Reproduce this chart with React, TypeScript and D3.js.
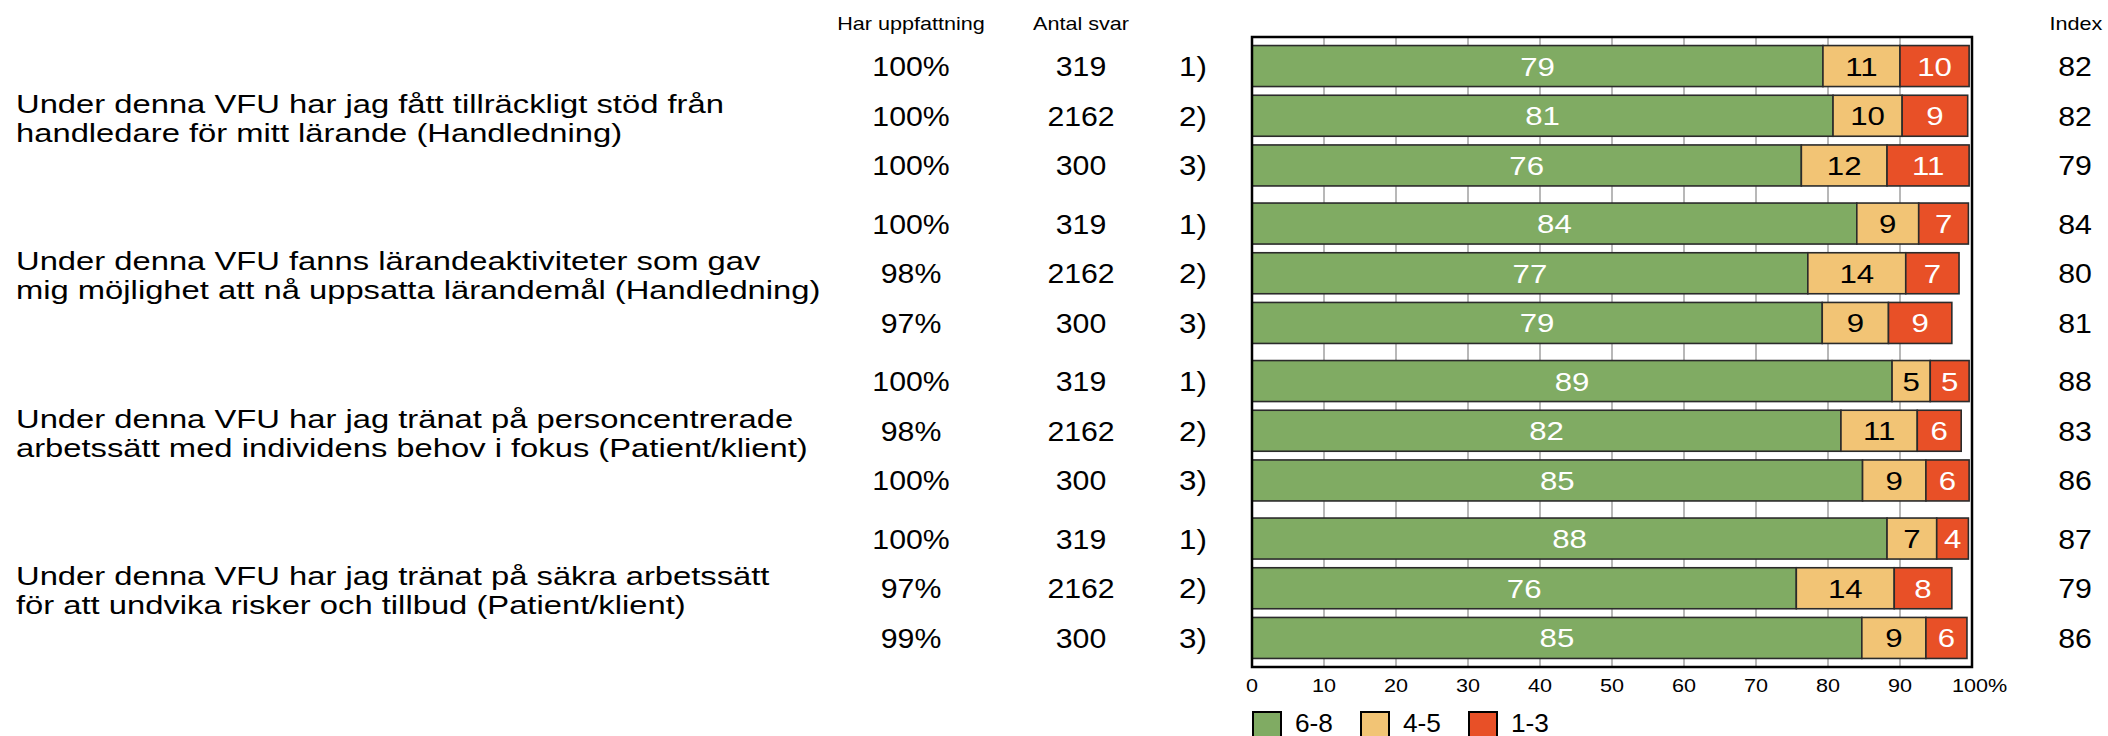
import React from "react";
import * as d3 from "d3";

const questionLines: string[][] = [
  ["Under denna VFU har jag fått tillräckligt stöd från", "handledare för mitt lärande (Handledning)"],
  ["Under denna VFU fanns lärandeaktiviteter som gav", "mig möjlighet att nå uppsatta lärandemål (Handledning)"],
  ["Under denna VFU har jag tränat på personcentrerade", "arbetssätt med individens behov i fokus (Patient/klient)"],
  ["Under denna VFU har jag tränat på säkra arbetssätt", "för att undvika risker och tillbud (Patient/klient)"],
];
const respondentLabels = ["1)", "2)", "3)"];
// shares in percent (labels are the rounded values)
const green = [79.3, 80.7, 76.3, 84.0, 77.2, 79.2, 88.9, 81.8, 84.8, 88.2, 75.6, 84.7];
const yellow = [10.7, 9.6, 11.9, 8.6, 13.6, 9.2, 5.3, 10.6, 8.8, 6.9, 13.6, 8.9];
const red = [9.6, 9.1, 11.4, 6.9, 7.4, 8.8, 5.4, 6.1, 6.0, 4.4, 8.0, 5.7];
const indexValues = [82, 82, 79, 84, 80, 81, 88, 83, 86, 87, 79, 86];
const harUppfattning = ["100%", "100%", "100%", "100%", "98%", "97%", "100%", "98%", "100%", "100%", "97%", "99%"];
const antalSvar = [319, 2162, 300, 319, 2162, 300, 319, 2162, 300, 319, 2162, 300];
const xTicks = [0, 10, 20, 30, 40, 50, 60, 70, 80, 90, 100];
const legendLabels = ["6-8", "4-5", "1-3"];
const seriesColors = ["#80ab63", "#f2c475", "#e85027"];
const seriesTextColors = ["#ffffff", "#000000", "#ffffff"];

const FONT = "'Liberation Sans', Arial, Helvetica, sans-serif";

function T(props: {
  x: number; y: number; sx?: number; size: number; anchor?: string; fill?: string; children: React.ReactNode;
}) {
  const { x, y, sx = 1, size, anchor = "start", fill = "#000", children } = props;
  return (
    <text
      transform={`translate(${x},${y}) scale(${sx},1)`}
      fontSize={size}
      textAnchor={anchor as any}
      fill={fill}
      fontFamily={FONT}
    >
      {children}
    </text>
  );
}

export default function App() {
  const W = 2108, H = 736;
  const plotL = 1252, plotR = 1972, plotT = 37, plotB = 667;
  const x = d3.scaleLinear().domain([0, 100]).range([plotL, plotR]);
  const gScale = d3.scaleBand<number>().domain([0, 1, 2, 3]).range([plotT, plotB]).padding(0);
  const rScale = d3.scaleBand<number>().domain([0, 1, 2]).range([0, gScale.bandwidth()])
    .paddingInner(0.175).paddingOuter(0.172);

  const rows = green.map((g, i) => {
    const grp = Math.floor(i / 3);
    const r = i % 3;
    const y0 = (gScale(grp) as number) + (rScale(r) as number);
    const vals = [g, yellow[i], red[i]];
    const stack: { x0: number; x1: number; v: number; k: number }[] = [];
    let acc = 0;
    vals.forEach((v, k) => {
      stack.push({ x0: acc, x1: acc + v, v, k });
      acc += v;
    });
    return { i, grp, r, y0, h: rScale.bandwidth(), stack };
  });

  return (
    <svg width={W} height={H} style={{ position: "absolute", left: 0, top: 0, background: "#fff" }}>
      <rect x={0} y={0} width={W} height={H} fill="#fff" />
      {/* headers */}
      <T x={911} y={30} size={18} sx={1.2} anchor="middle">Har uppfattning</T>
      <T x={1081} y={30} size={18} sx={1.2} anchor="middle">Antal svar</T>
      <T x={2076} y={30} size={18} sx={1.2} anchor="middle">Index</T>

      {/* question labels */}
      {questionLines.map((lines, g) => {
        const cy = (gScale(g) as number) + gScale.bandwidth() / 2;
        return lines.map((ln, li) => (
          <T key={`q${g}-${li}`} x={16} y={cy - 3 + li * 29} size={25} sx={1.31}>{ln}</T>
        ));
      })}

      {/* gridlines */}
      {xTicks.map((t) => (
        <line key={`g${t}`} x1={x(t)} x2={x(t)} y1={plotT} y2={plotB} stroke="#b8b8b8" strokeWidth={2} />
      ))}

      {/* bars */}
      {rows.map((row) => (
        <g key={`r${row.i}`}>
          {row.stack.map((s) => (
            <rect
              key={s.k}
              x={x(s.x0)}
              y={row.y0}
              width={x(s.x1) - x(s.x0)}
              height={row.h}
              fill={seriesColors[s.k]}
              stroke="#2b2b2b"
              strokeWidth={1.6}
            />
          ))}
          {row.stack.map((s) => (
            <T
              key={`t${s.k}`}
              x={(x(s.x0) + x(s.x1)) / 2}
              y={row.y0 + row.h / 2 + 9.5}
              size={26}
              sx={1.2}
              anchor="middle"
              fill={seriesTextColors[s.k]}
            >
              {Math.round(s.v)}
            </T>
          ))}
          <T x={911} y={row.y0 + row.h / 2 + 10} size={28} sx={1.08} anchor="middle">{harUppfattning[row.i]}</T>
          <T x={1081} y={row.y0 + row.h / 2 + 10} size={28} sx={1.08} anchor="middle">{antalSvar[row.i]}</T>
          <T x={1207} y={row.y0 + row.h / 2 + 10} size={28} sx={1.12} anchor="end">{respondentLabels[row.r]}</T>
          <T x={2075} y={row.y0 + row.h / 2 + 10} size={28} sx={1.08} anchor="middle">{indexValues[row.i]}</T>
        </g>
      ))}

      {/* frame */}
      <rect x={plotL} y={plotT} width={plotR - plotL} height={plotB - plotT} fill="none" stroke="#000" strokeWidth={2.5} />

      {/* x tick labels */}
      {xTicks.map((t) => (
        <T key={`xl${t}`} x={t === 100 ? x(t) - 20 : x(t)} y={692} size={18} sx={1.2} anchor={t === 100 ? "start" : "middle"}>
          {t === 100 ? "100%" : String(t)}
        </T>
      ))}

      {/* legend */}
      {legendLabels.map((lab, k) => (
        <g key={`lg${k}`}>
          <rect x={1253 + k * 108} y={712} width={28} height={30} fill={seriesColors[k]} stroke="#000" strokeWidth={2} />
          <T x={1295 + k * 108} y={732} size={25} sx={1.05}>{lab}</T>
        </g>
      ))}
    </svg>
  );
}
